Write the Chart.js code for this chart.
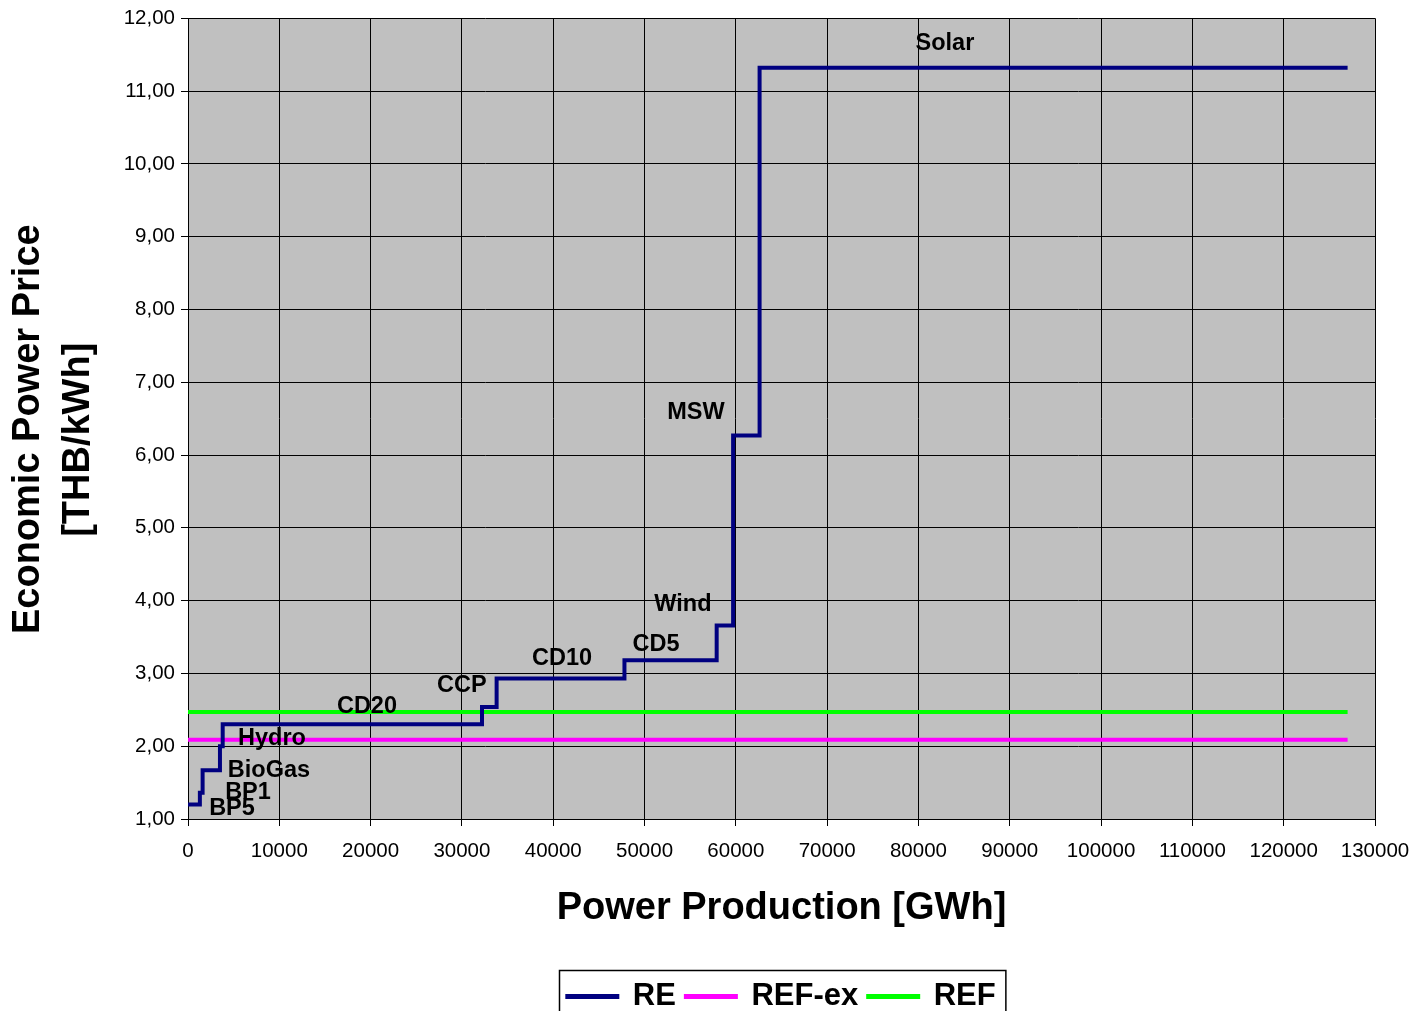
<!DOCTYPE html>
<html>
<head>
<meta charset="utf-8">
<script src="https://cdn.jsdelivr.net/npm/chart.js@4"></script>
<style>
  body { margin: 0; background: #ffffff; }
  canvas { display: block; }
</style>
</head>
<body>
<canvas id="chart" width="1414" height="1011"></canvas>
<script>
// Degraus da curva RE (inicio de cada patamar)
const reX = [0, 1300, 1600, 3500, 3800, 32200, 33800, 47800, 57900, 59700, 62600, 127000];
const reY = [1.20, 1.36, 1.67, 2.00, 2.30, 2.54, 2.93, 3.18, 3.66, 6.27, 11.32, 11.32];

// Linhas de referencia
const refX = [0, 127000];
const refExY = [2.09, 2.09];
const refY = [2.47, 2.47];

// Rotulos das tecnologias
const techNames = ['BP5', 'BP1', 'BioGas', 'Hydro', 'CD20', 'CCP', 'CD10', 'CD5', 'Wind', 'MSW', 'Solar'];
const techX = [4820, 6570, 8870, 9200, 19600, 30000, 40960, 51250, 54200, 55630, 82900];
const techY = [1.14, 1.36, 1.67, 2.11, 2.54, 2.84, 3.20, 3.40, 3.95, 6.58, 11.65];

const FONT = '"Liberation Sans", Arial, sans-serif';

function toPoints(xs, ys) {
    return xs.map((x, i) => ({ x: x, y: ys[i] }));
}

// Fundo cinza da area do grafico + rotulos + moldura da legenda
const extras = {
    id: 'extras',
    beforeDraw(chart) {
        const a = chart.chartArea;
        const ctx = chart.ctx;
        ctx.save();
        ctx.fillStyle = '#c0c0c0';
        ctx.fillRect(a.left, a.top, a.right - a.left, a.bottom - a.top);
        ctx.restore();
    },
    afterDatasetsDraw(chart) {
        const ctx = chart.ctx;
        const xs = chart.scales.x, ys = chart.scales.y;
        ctx.save();
        ctx.font = 'bold 23.5px ' + FONT;
        ctx.fillStyle = '#000000';
        ctx.textAlign = 'center';
        ctx.textBaseline = 'middle';
        techNames.forEach((name, i) => {
            ctx.fillText(name, xs.getPixelForValue(techX[i]), ys.getPixelForValue(techY[i]));
        });
        ctx.restore();
    },
    afterDraw(chart) {
        const boxes = chart.legend.legendHitBoxes;
        if (!boxes || !boxes.length) return;
        const left = Math.min(...boxes.map(b => b.left)) - 8;
        const right = Math.max(...boxes.map(b => b.left + b.width)) + 10;
        const top = Math.min(...boxes.map(b => b.top)) - 11;
        const ctx = chart.ctx;
        ctx.save();
        ctx.strokeStyle = '#000000';
        ctx.lineWidth = 1.5;
        ctx.strokeRect(Math.round(left) + 0.5, Math.round(top) + 0.5, right - left, 80);
        ctx.restore();
    }
};

new Chart(document.getElementById('chart'), {
    type: 'line',
    data: {
        datasets: [
            {
                label: 'RE',
                data: toPoints(reX, reY),
                stepped: 'before',
                borderColor: '#000080',
                backgroundColor: '#000080',
                borderWidth: 4,
                pointRadius: 0
            },
            {
                label: 'REF-ex',
                data: toPoints(refX, refExY),
                borderColor: '#ff00ff',
                backgroundColor: '#ff00ff',
                borderWidth: 4,
                pointRadius: 0
            },
            {
                label: 'REF',
                data: toPoints(refX, refY),
                borderColor: '#00ff00',
                backgroundColor: '#00ff00',
                borderWidth: 4,
                pointRadius: 0
            }
        ]
    },
    options: {
        responsive: false,
        animation: false,
        layout: { padding: { left: 4, right: 39, top: 8, bottom: -11 } },
        scales: {
            x: {
                type: 'linear',
                min: 0,
                max: 130000,
                ticks: {
                    stepSize: 10000,
                    color: '#000000',
                    font: { size: 20.5, family: FONT },
                    callback: v => String(v),
                    maxRotation: 0,
                    padding: 13
                },
                grid: { color: '#000000', lineWidth: 1, tickLength: 7 },
                border: { color: '#000000', width: 1 },
                title: {
                    display: true,
                    text: 'Power Production [GWh]',
                    color: '#000000',
                    font: { size: 38, weight: 'bold', family: FONT },
                    padding: { top: 30, bottom: 40 }
                },
                afterFit: s => {
                    s.height = 152;
                    s.paddingLeft = 0;
                    s.paddingRight = 0;
                }
            },
            y: {
                min: 1,
                max: 12,
                ticks: {
                    stepSize: 1,
                    color: '#000000',
                    font: { size: 20.5, family: FONT },
                    callback: v => v.toFixed(2).replace('.', ','),
                    padding: 6
                },
                grid: { color: '#000000', lineWidth: 1, tickLength: 7 },
                border: { color: '#000000', width: 1 },
                title: {
                    display: true,
                    text: ['Economic Power Price  ', '[THB/kWh]    '],
                    color: '#000000',
                    font: { size: 38, weight: 'bold', family: FONT, lineHeight: 1.3 },
                    padding: { top: 0, bottom: 10 }
                },
                afterFit: s => { s.width = 184; }
            }
        },
        plugins: {
            legend: {
                position: 'bottom',
                fullSize: false,
                labels: {
                    color: '#000000',
                    font: { size: 31, weight: 'bold', family: FONT },
                    boxWidth: 50,
                    boxHeight: 1,
                    padding: 10
                }
            },
            tooltip: { enabled: false }
        }
    },
    plugins: [extras]
});
</script>
</body>
</html>
